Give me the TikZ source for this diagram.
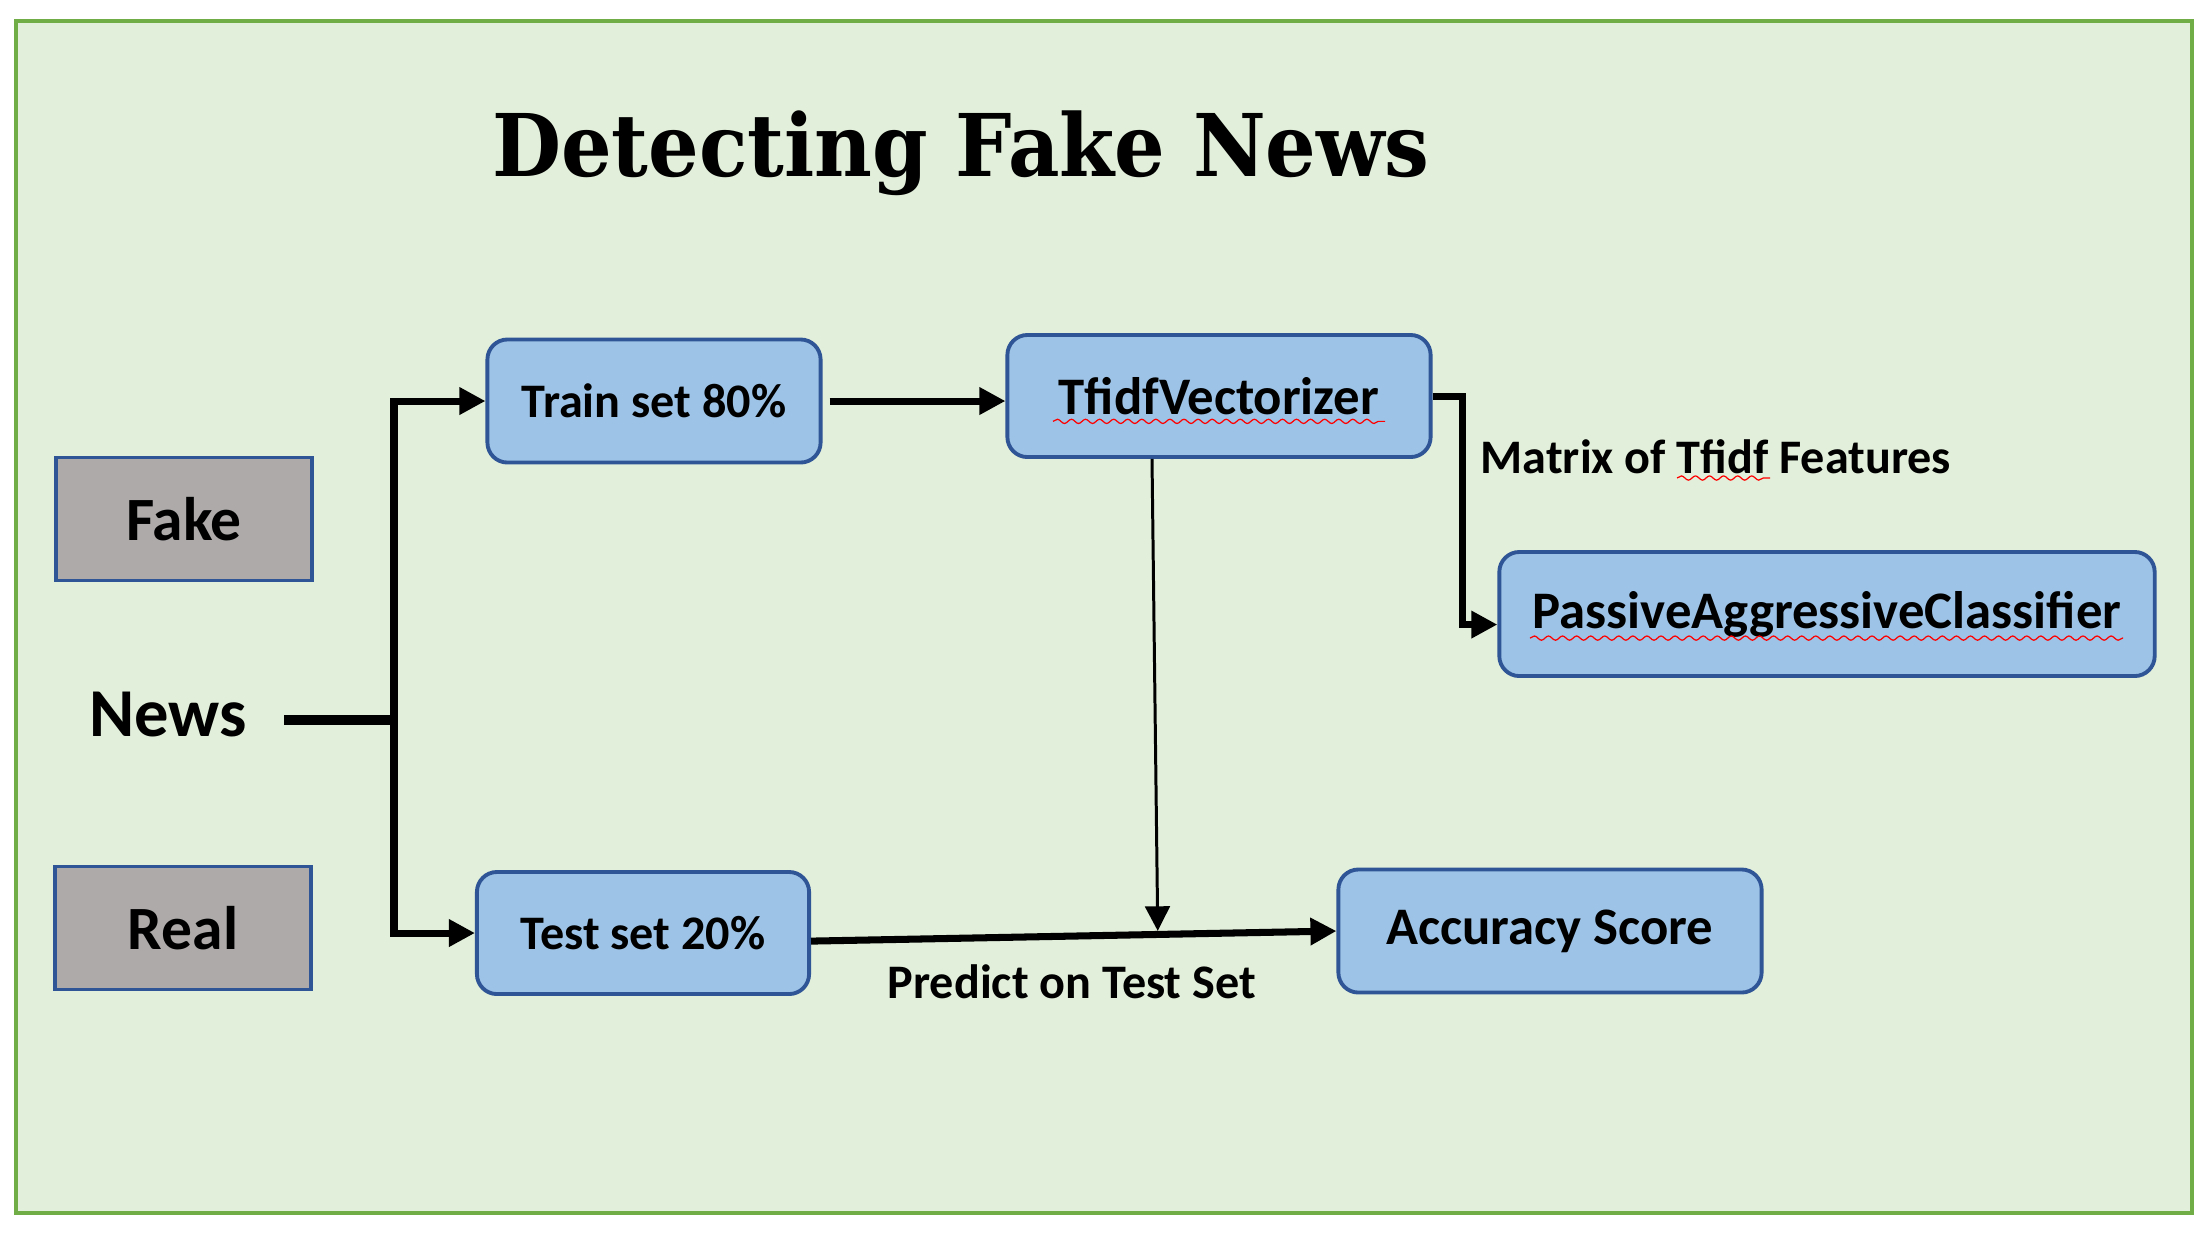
\documentclass[tikz,border=0pt]{standalone}
\usepackage{fontspec}
\setmainfont{Carlito}
\newfontfamily\titlefont[FakeStretch=0.92]{DejaVu Serif}
\usetikzlibrary{arrows.meta,calc,decorations.pathmorphing}
\definecolor{bggreen}{HTML}{E2EFDA}
\definecolor{framegreen}{HTML}{70AD47}
\definecolor{boxblue}{HTML}{9DC3E6}
\definecolor{edgeblue}{HTML}{2F5597}
\definecolor{classgray}{HTML}{AEAAAA}
\begin{document}
\begin{tikzpicture}[
    x=0.01cm, y=-0.01cm,
    stage/.style={rectangle, rounded corners=2mm, draw=edgeblue, line width=1.1pt, fill=boxblue, font=\bfseries\fontsize{15}{18}\selectfont},
    smallstage/.style={stage, font=\bfseries\fontsize{13.7}{16}\selectfont},
    class/.style={rectangle, draw=edgeblue, line width=0.9pt, fill=classgray, minimum width=2.56cm, minimum height=1.23cm, font=\bfseries\fontsize{17.5}{20}\selectfont},
    caption/.style={font=\bfseries\fontsize{13.7}{16}\selectfont, inner sep=0pt},
    flow/.style={-{Triangle[length=7.4pt, width=7.4pt]}, line width=2pt},
    thinflow/.style={-{Triangle[length=7pt, width=7pt]}, line width=0.85pt},
    spell/.style={red, line width=0.35pt, decorate, decoration={snake, amplitude=0.6pt, segment length=4pt}}
]
    % Page and frame
    \fill[white] (0,0) rectangle (2212,1241);
    \useasboundingbox (0,0) rectangle (2212,1241);
    \draw[draw=framegreen, fill=bggreen, line width=1.2pt] (16,21) rectangle (2192,1213);

    % Title
    \node[anchor=base, font=\titlefont\bfseries\fontsize{24.6}{28}\selectfont] (title) at (961,176) {Detecting Fake News};

    % Classes and input
    \node[class] (fake) at (184,519) {Fake};
    \node[class] (real) at (183,928) {Real};
    \node[anchor=base, font=\bfseries\fontsize{19.5}{22}\selectfont] (news) at (168,736) {News};

    % Split
    \node[smallstage, minimum width=3.33cm, minimum height=1.23cm] (train) at (654,401) {Train set 80\%};
    \node[smallstage, minimum width=3.32cm, minimum height=1.22cm] (test) at (643,933) {Test set 20\%};

    % Model
    \node[stage, minimum width=4.23cm, minimum height=1.22cm] (tfidf) at (1219,396) {TfidfVectorizer};
    \node[stage, minimum width=6.55cm, minimum height=1.24cm] (pac) at (1827,614) {PassiveAggressiveClassifier};
    \node[stage, minimum width=4.23cm, minimum height=1.23cm] (acc) at (1550,931) {Accuracy Score};

    % Labels
    \node[caption, anchor=base west] (matrixlbl) at (1480,473) {Matrix of Tfidf Features};
    \node[caption, anchor=base west] (predictlbl) at (887,998) {Predict on Test Set};

    % Spell check marks
    \draw[spell] ($(tfidf.base)+(-166,7)$) -- ++(332,0);
    \draw[spell] ($(pac.base)+(-297,10)$) -- ++(593,0);
    \draw[spell] ($(matrixlbl.base west)+(197,5)$) -- ++(93,0);

    % Arrows
    \coordinate (split) at (394,720);
    \draw[line width=2.9pt] ($(news.east |- split)+(25,0)$) -- (split);
    \draw[flow] (split) |- (train.west);
    \draw[flow] (split) |- (test.west);
    \draw[flow] ([xshift=2pt]train.east) -- (train.east -| tfidf.west);
    \draw[flow] (tfidf.east) -- ++(30,0) |- ([yshift=-3pt]pac.west);
    \draw[flow] ([yshift=-2.3pt]test.east) -- (acc.west);
    \coordinate (hit) at ($([yshift=-2.3pt]test.east)!0.66!(acc.west)$);
    \draw[thinflow, shorten >=1pt] ($(tfidf.south)+(-67,0)$) -- (hit);
\end{tikzpicture}
\end{document}
